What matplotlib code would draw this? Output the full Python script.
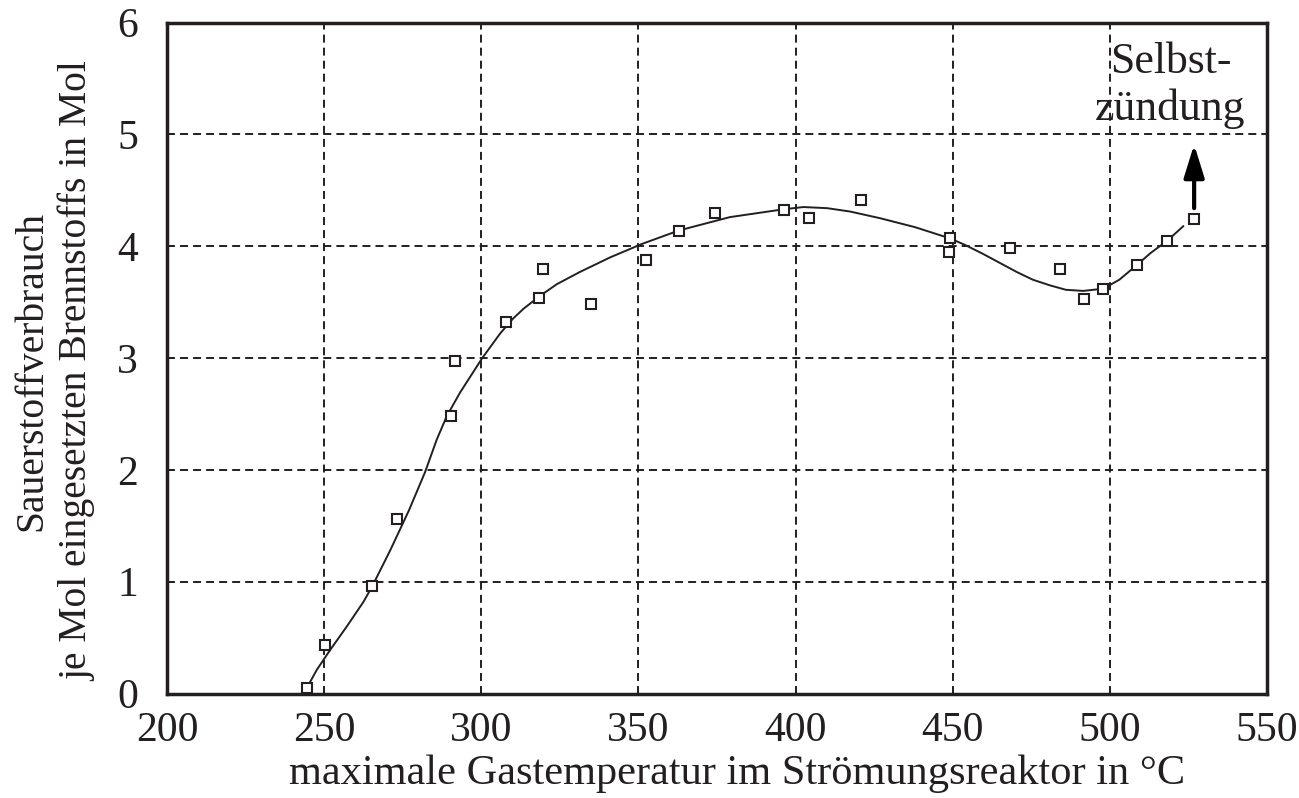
import matplotlib
matplotlib.use("Agg")
import matplotlib.pyplot as plt

plt.rcParams['font.family'] = ['Liberation Serif', 'DejaVu Serif']

# measured points (temperature in °C, O2 consumption in mol)
meas_x = [244.4, 250.2, 265.3, 273.2, 290.4, 291.6, 307.8, 318.4, 319.7, 335.0,
          352.3, 362.8, 374.5, 396.2, 404.4, 420.8, 449.1, 448.8, 468.3, 484.0,
          491.7, 497.9, 508.5, 518.3, 526.8]
meas_y = [0.05, 0.43, 0.96, 1.56, 2.48, 2.97, 3.32, 3.54, 3.80, 3.48,
          3.88, 4.14, 4.30, 4.32, 4.25, 4.41, 4.07, 3.95, 3.98, 3.80,
          3.53, 3.62, 3.83, 4.05, 4.24]

# fitted curve
curve_x = [243.9, 247.6, 251.9, 257.2, 262.5, 265.3, 271.0, 277.0, 282.1, 285.8,
           289.0, 293.2, 300.3, 306.0, 310.0, 313.4, 318.4, 324.0, 331.4, 341.0,
           351.1, 362.8, 379.1, 396.2, 402.5, 410.0, 417.3, 426.9, 438.0, 449.1,
           454.0, 459.7, 465.0, 470.3, 475.5, 480.9, 486.0, 491.5, 497.9, 503.0,
           508.5, 513.0, 518.3, 523.4]
curve_y = [0.02, 0.21, 0.39, 0.60, 0.82, 0.96, 1.28, 1.64, 1.98, 2.27,
           2.48, 2.69, 3.00, 3.22, 3.35, 3.44, 3.55, 3.66, 3.77, 3.90,
           4.02, 4.14, 4.26, 4.33, 4.35, 4.34, 4.31, 4.25, 4.17, 4.07,
           4.01, 3.93, 3.85, 3.77, 3.70, 3.65, 3.61, 3.60, 3.62, 3.70,
           3.83, 3.94, 4.05, 4.18]

x_ticks = [200, 250, 300, 350, 400, 450, 500, 550]
y_ticks = [0, 1, 2, 3, 4, 5, 6]

ink = '#231f20'

fig = plt.figure(figsize=(12.99, 7.98), dpi=100)
ax = fig.add_axes([0.1286, 0.1309, 0.9754 - 0.1286, 0.9718 - 0.1309])

ax.set_xlim(200, 550)
ax.set_ylim(0, 6)
ax.set_xticks(x_ticks)
ax.set_yticks(y_ticks)
ax.set_xticklabels([str(v) for v in x_ticks])
ax.set_yticklabels([str(v) for v in y_ticks])

ax.grid(True, linestyle=(0, (4.1, 2.6)), linewidth=1.4, color=ink)
ax.set_axisbelow(True)

for s in ax.spines.values():
    s.set_linewidth(2.5)
    s.set_color(ink)

ax.tick_params(axis='both', direction='in', length=4, width=1.2, color=ink,
               labelsize=30, labelcolor=ink)
ax.tick_params(axis='x', pad=13)
ax.tick_params(axis='y', pad=21)

ax.plot(curve_x, curve_y, color=ink, linewidth=1.4, zorder=3,
        solid_joinstyle='round', solid_capstyle='round')
ax.plot(meas_x, meas_y, linestyle='none', marker='s', markersize=7.4,
        markerfacecolor='white', markeredgecolor=ink, markeredgewidth=1.5, zorder=4)

ax.annotate('', xy=(526.8, 4.91), xytext=(526.8, 4.34),
            arrowprops=dict(arrowstyle='-|>,head_length=2.0,head_width=0.62',
                            color='black', linewidth=3.0, shrinkA=0, shrinkB=0),
            zorder=5)

ax.text(519.3, 5.13, 'Selbst-\nzündung', ha='center', va='baseline',
        fontsize=31.5, color=ink, linespacing=1.2, zorder=5)

ax.set_xlabel('maximale Gastemperatur im Strömungsreaktor in °C',
              fontsize=30.5, color=ink, labelpad=3)
ax.xaxis.label.set_x(0.518)

fig.text(0.042, 0.535, 'Sauerstoffverbrauch\nje Mol eingesetzten Brennstoffs in Mol',
         rotation=90, ha='center', va='center', fontsize=28.5, color=ink,
         linespacing=1.3, multialignment='center')

fig.savefig('out.png', dpi=100)
